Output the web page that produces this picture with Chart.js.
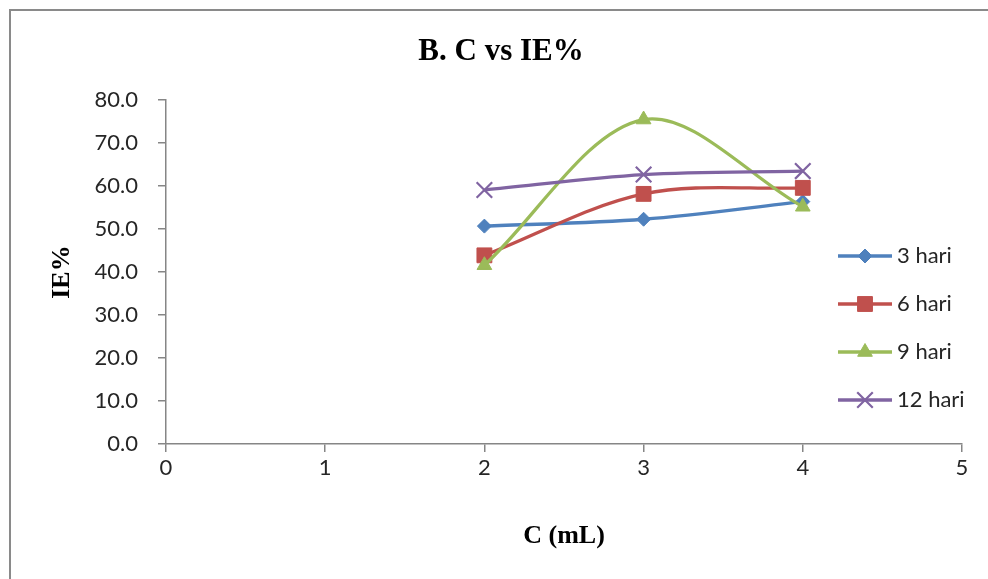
<!DOCTYPE html>
<html><head><meta charset="utf-8">
<script src="https://cdn.jsdelivr.net/npm/chart.js@4.4.0/dist/chart.umd.min.js"></script>
<style>html,body{margin:0;padding:0;background:#fff;overflow:hidden}canvas{display:block}</style>
</head><body>
<canvas id="c" width="988" height="579"></canvas>
<script>
// ---- data ----
const concentrations = [2, 3, 4];
const seriesNames = ['3 hari', '6 hari', '9 hari', '12 hari'];
const ie3hari = [50.7, 52.3, 56.4];
const ie6hari = [43.9, 58.2, 59.6];
const ie9hari = [41.6, 75.5, 55.2];
const ie12hari = [59.1, 62.7, 63.5];
const xTickValues = [0, 1, 2, 3, 4, 5];
const yTickValues = [0, 10, 20, 30, 40, 50, 60, 70, 80];
const chartTitle = 'B. C vs IE%';
const xTitle = 'C (mL)';
const yTitle = 'IE%';

// ---- styles ----
const colors = ['#4F81BD', '#C0504D', '#9BBB59', '#8064A2'];
const styles = ['rectRot', 'rect', 'triangle', 'crossRot'];
const radii = [7, 10.5, 8.5, 11];
const seriesValues = [ie3hari, ie6hari, ie9hari, ie12hari];
const axisColor = '#868686';
const tickFont = {family: 'Lato, "Open Sans", sans-serif', size: 22};
const serif = '"Liberation Serif", "DejaVu Serif", serif';

const datasets = seriesNames.map((name, i) => ({
  label: name,
  data: concentrations.map((c, j) => ({x: c, y: seriesValues[i][j]})),
  borderColor: colors[i],
  backgroundColor: colors[i],
  borderWidth: 3.3,
  tension: 0.33,
  pointStyle: styles[i],
  pointRadius: radii[i],
  pointBorderWidth: styles[i] === 'crossRot' ? 2.2 : 1,
  pointBorderColor: colors[i],
  pointBackgroundColor: colors[i],
  order: seriesNames.length - i
}));

const frame = {
  id: 'frame',
  beforeDraw(chart) {
    const ctx = chart.ctx;
    ctx.save();
    ctx.strokeStyle = '#8a8a8a';
    ctx.lineWidth = 2;
    ctx.beginPath();
    ctx.moveTo(10, chart.height + 5);
    ctx.lineTo(10, 10);
    ctx.lineTo(chart.width + 5, 10);
    ctx.stroke();
    ctx.restore();
  }
};

const customLegend = {
  id: 'customLegend',
  afterDraw(chart) {
    const ctx = chart.ctx;
    const ds = chart.data.datasets;
    const x0 = 838, x1 = 892, y0 = 256, gap = 48;
    ctx.save();
    ds.forEach((d, i) => {
      const y = y0 + gap * i;
      ctx.strokeStyle = d.borderColor;
      ctx.lineWidth = 3.3;
      ctx.beginPath();
      ctx.moveTo(x0, y);
      ctx.lineTo(x1, y);
      ctx.stroke();
      ctx.fillStyle = d.pointBackgroundColor;
      ctx.strokeStyle = d.pointBorderColor;
      ctx.lineWidth = d.pointBorderWidth;
      Chart.helpers.drawPoint(ctx, {pointStyle: d.pointStyle, radius: d.pointRadius, rotation: 0, borderWidth: d.pointBorderWidth}, (x0 + x1) / 2, y);
      ctx.fillStyle = '#262626';
      ctx.font = tickFont.size + 'px ' + tickFont.family;
      ctx.textBaseline = 'middle';
      ctx.textAlign = 'left';
      ctx.fillText(d.label, x1 + 5, y);
    });
    ctx.restore();
  }
};

new Chart(document.getElementById('c'), {
  type: 'line',
  data: {datasets},
  plugins: [frame, customLegend],
  options: {
    responsive: false,
    animation: false,
    layout: {padding: {left: 14, right: 0, top: 0, bottom: 0}},
    plugins: {
      legend: {display: false},
      tooltip: {enabled: false},
      title: {
        display: true,
        text: chartTitle,
        color: '#000',
        font: {family: serif, size: 31, weight: 'bold', lineHeight: 1.2},
        padding: {top: 33, bottom: 30}
      }
    },
    scales: {
      x: {
        type: 'linear',
        min: 0, max: 5,
        afterBuildTicks: s => { s.ticks = xTickValues.map(v => ({value: v})); },
        afterFit: s => { s.height = 135; },
        ticks: {color: '#262626', font: tickFont, padding: 3, maxRotation: 0},
        grid: {display: true, drawOnChartArea: false, drawTicks: true, tickLength: 8, color: axisColor, lineWidth: 1.5},
        border: {display: true, color: axisColor, width: 1.5},
        title: {display: true, text: xTitle, color: '#000', font: {family: serif, size: 26, weight: 'bold', lineHeight: 1.2}, padding: {top: 0, bottom: 27}}
      },
      y: {
        type: 'linear',
        min: 0, max: 80,
        afterBuildTicks: s => { s.ticks = yTickValues.map(v => ({value: v})); },
        afterFit: s => { s.width = 152; },
        ticks: {color: '#262626', font: tickFont, padding: 20, callback: v => Number(v).toFixed(1)},
        grid: {display: true, drawOnChartArea: false, drawTicks: true, tickLength: 8, color: axisColor, lineWidth: 1.5},
        border: {display: true, color: axisColor, width: 1.5},
        title: {display: true, text: yTitle, color: '#000', font: {family: serif, size: 26, weight: 'bold', lineHeight: 1.2}, padding: {top: 33, bottom: 0}}
      },
      ySpacer: {
        type: 'linear',
        position: 'right',
        min: 0, max: 80,
        afterFit: s => { s.width = 26; },
        ticks: {display: false},
        grid: {display: false},
        border: {display: false},
        title: {display: false}
      }
    }
  }
});
</script>
</body></html>
